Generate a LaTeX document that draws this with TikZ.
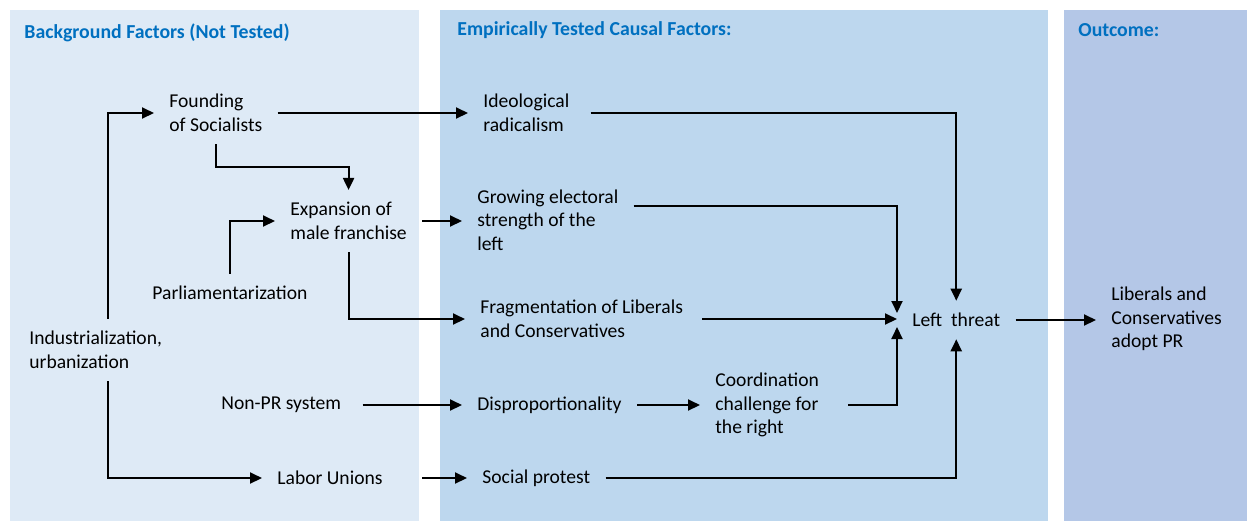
\documentclass[tikz,border=0pt]{standalone}
\usepackage{fontspec}
\setmainfont{Carlito}
\usetikzlibrary{arrows.meta}
\definecolor{bgpanel}{HTML}{DEEAF6}
\definecolor{testpanel}{HTML}{BDD7EE}
\definecolor{outpanel}{HTML}{B4C7E7}
\definecolor{headblue}{HTML}{0070C0}

\begin{document}
\begin{tikzpicture}[
x=0.5pt, y=-0.5pt,
factor/.style={anchor=west, align=left, inner xsep=7.5pt, inner ysep=6pt, font=\fontsize{9.8}{11.8}\selectfont},
heading/.style={anchor=west, inner sep=0pt, text=headblue, font=\fontsize{9.9}{11.8}\selectfont\bfseries},
link/.style={->, >={Triangle[length=6pt,width=5.5pt]}, line width=1pt}
]
    \useasboundingbox (0,0) rectangle (1247,521);

    %Panels
    \fill[bgpanel]   (10,10)   rectangle (419,521);
    \fill[testpanel] (440,10)  rectangle (1048,521);
    \fill[outpanel]  (1064,10) rectangle (1247,521);

    \node[heading]
        (hbg)       at (24,33)      {Background Factors (Not Tested)};
    \node[heading]
        (htest)     at (457,30)     {Empirically Tested Causal Factors:};
    \node[heading]
        (hout)      at (1078,30)    {Outcome:};

    %Nodes
    \node[factor]
        (found)     at (154,113)    {Founding\\of Socialists};
    \node[factor]
        (ideo)      at (468,113)    {Ideological\\radicalism};
    \node[factor]
        (expan)     at (275,221)    {Expansion of\\male franchise};
    \node[factor]
        (grow)      at (462,220)    {Growing electoral\\strength of the\\left};
    \node[factor]
        (parl)      at (137,293)    {Parliamentarization};
    \node[factor]
        (frag)      at (465,319)    {Fragmentation of Liberals\\and Conservatives};
    \node[factor]
        (left)      at (897,320)    {Left~ threat};
    \node[factor]
        (adopt)     at (1096,319)   {Liberals and\\Conservatives\\adopt PR};
    \node[factor]
        (indus)     at (14,350)     {Industrialization,\\urbanization};
    \node[factor]
        (nonpr)     at (206,405)    {Non-PR system};
    \node[factor]
        (disp)      at (462,405)    {Disproportionality};
    \node[factor]
        (coord)     at (700,405)    {Coordination\\challenge for\\the right};
    \node[factor]
        (labor)     at (262,478)    {Labor Unions};
    \node[factor]
        (social)    at (467,478)    {Social protest};

    %Lines
    \draw[link] (indus.north -| 108,0) |- (found.west);
    \draw[link] (indus.south -| 108,0) |- (labor.west);
    \draw[link] (found.south) -- ++(0,23) -| (expan.north);
    \draw[link] (parl.north) |- (expan.west);
    \draw[link] (found.east) -- (ideo.west);
    \draw[link] ([xshift=3pt]ideo.east) -| (left.north);
    \draw[link] (expan.east) -- (expan.east -| grow.west);
    \draw[link] ([yshift=7pt]grow.east) -| ([yshift=3.5pt]left.west);
    \draw[link] (expan.south) |- (frag.west);
    \draw[link] ([xshift=2pt]frag.east) -- (frag.east -| left.west);
    \draw[link] ([xshift=3pt]nonpr.east) -- (disp.west);
    \draw[link] (disp.east) -- (coord.west);
    \draw[link] ([xshift=7pt]coord.east) -| ([yshift=-3.5pt]left.west);
    \draw[link] ([xshift=12pt]labor.east) -- (social.west);
    \draw[link] (social.east) -| (left.south);
    \draw[link] (left.east) -- (left.east -| adopt.west);
\end{tikzpicture}
\end{document}
